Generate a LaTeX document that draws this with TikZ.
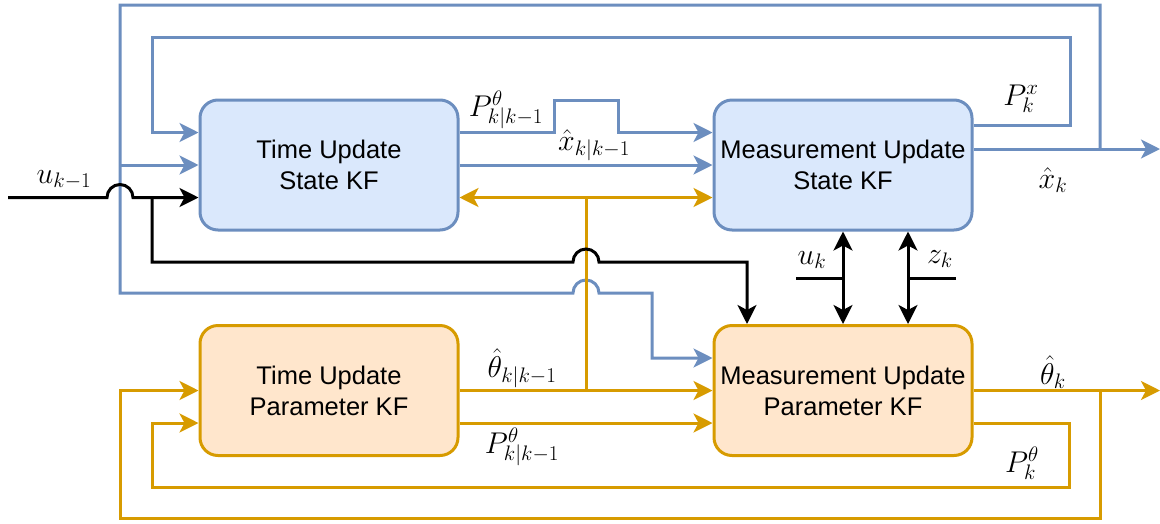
\RequirePackage{fix-cm}
\documentclass[tikz,border=0pt]{standalone}
\usepackage{fontspec}
\setmainfont{Liberation Sans}
\usetikzlibrary{arrows.meta}
\definecolor{bstroke}{HTML}{6C8EBF}
\definecolor{bfill}{HTML}{DAE8FC}
\definecolor{ostroke}{HTML}{D79B00}
\definecolor{ofill}{HTML}{FFE6CC}
\tikzset{
  kfbox/.style={rounded corners=18pt, minimum width=258pt, minimum height=130pt, line width=3pt, align=center, font=\fontsize{25.5}{31}\selectfont, inner sep=0pt},
  bluebox/.style={kfbox, draw=bstroke, fill=bfill},
  orangebox/.style={kfbox, draw=ostroke, fill=ofill},
  conn/.style={line width=3pt},
  tip/.style={-{Stealth[length=19pt,width=19pt,inset=5pt]}},
  dtip/.style={{Stealth[length=19pt,width=19pt,inset=5pt]}-{Stealth[length=19pt,width=19pt,inset=5pt]}},
  lbl/.style={inner sep=0pt, font=\fontsize{30}{36}\selectfont},
}
\begin{document}
\begin{tikzpicture}[x=1pt,y=-1pt]
\useasboundingbox (0,0) rectangle (1160,523);
% boxes
\node[bluebox] (tus) at (329,165) {Time Update\\State KF};
\node[bluebox] (mus) at (843,165) {Measurement Update\\State KF};
\node[orangebox] (tup) at (329,390.5) {Time Update\\Parameter KF};
\node[orangebox] (mup) at (843,390.5) {Measurement Update\\Parameter KF};
% free-end coordinates
\coordinate (uin) at (8,197.5);
\coordinate (jb) at (152,197.5);
\coordinate (xout) at (1160,149);
\coordinate (jx) at (1100,149);
\coordinate (thout) at (1160,390.5);
\coordinate (jt) at (1100,390.5);
\coordinate (jo) at (586,197.5);
\coordinate (jo2) at (586,390.5);
\coordinate (ukc) at (796,278);
\coordinate (zkc) at (956,278);
\coordinate (jbl) at (120,165);
% blue outer loop (x_hat_k feedback)
\draw[conn, draw=bstroke, tip] ([yshift=16pt]mus.east) -- (xout);
\draw[conn, draw=bstroke, tip] (jx) -- (1100,5) -- (120,5) -- (120,293) -- (573,293)
  arc[start angle=180,end angle=0,radius=13pt] -- (652,293) -- (652,358) -- ([yshift=32.5pt]mup.west);
\draw[conn, draw=bstroke, tip] (jbl) -- (tus.west);
% blue inner loop (P_k^x)
\draw[conn, draw=bstroke, tip] ([yshift=40pt]mus.east) -- (1070,125) -- (1070,37) -- (152,37) -- (152,132.5) -- ([yshift=32.5pt]tus.west);
% TUS -> MUS
\draw[conn, draw=bstroke, tip] ([yshift=32.5pt]tus.east) -- (554,132.5) -- (554,100) -- (618,100) -- (618,132.5) -- ([yshift=32.5pt]mus.west);
\draw[conn, draw=bstroke, tip] (tus.east) -- (mus.west);
% orange links
\draw[conn, draw=ostroke, dtip] ([yshift=-32.5pt]tus.east) -- ([yshift=-32.5pt]mus.west);
\draw[conn, draw=ostroke] (jo) -- (jo2);
\draw[conn, draw=ostroke, tip] (tup.east) -- (mup.west);
\draw[conn, draw=ostroke, tip] ([yshift=-32.5pt]tup.east) -- ([yshift=-32.5pt]mup.west);
\draw[conn, draw=ostroke, tip] (mup.east) -- (thout);
\draw[conn, draw=ostroke, tip] (jt) -- (1100,518) -- (120,518) -- (120,390.5) -- (tup.west);
\draw[conn, draw=ostroke, tip] ([yshift=-32.5pt]mup.east) -- (1069,423) -- (1069,487) -- (152,487) -- (152,423) -- ([yshift=-32.5pt]tup.west);
% black input u_{k-1}
\draw[conn, tip] (uin) -- (107,197.5) arc[start angle=180,end angle=0,radius=13pt] -- ([yshift=-32.5pt]tus.west);
\draw[conn, tip] (jb) -- (152,262) -- (573,262) arc[start angle=180,end angle=0,radius=13pt] -- (747,262) -- ([xshift=-96pt]mup.north);
% u_k, z_k
\draw[conn] (ukc) -- (843,278);
\draw[conn] (zkc) -- (908,278);
\draw[conn, dtip] (mus.south) -- (mup.north);
\draw[conn, dtip] ([xshift=65pt]mus.south) -- ([xshift=65pt]mup.north);
% labels
\node[lbl] (l1) at (64,180) {$u_{k-1}$};
\node[lbl] (l2) at (506,110) {$P^{\theta}_{k|k-1}$};
\node[lbl] (l3) at (594,145) {$\hat{x}_{k|k-1}$};
\node[lbl] (l4) at (1021,99) {$P^{x}_{k}$};
\node[lbl] (l5) at (1053,180) {$\hat{x}_{k}$};
\node[lbl] (l6) at (812,260) {$u_{k}$};
\node[lbl] (l7) at (940,259) {$z_{k}$};
\node[lbl] (l8) at (522,368) {$\hat{\theta}_{k|k-1}$};
\node[lbl] (l9) at (522,447) {$P^{\theta}_{k|k-1}$};
\node[lbl] (l10) at (1053,372) {$\hat{\theta}_{k}$};
\node[lbl] (l11) at (1022,463) {$P^{\theta}_{k}$};
\end{tikzpicture}
\end{document}
